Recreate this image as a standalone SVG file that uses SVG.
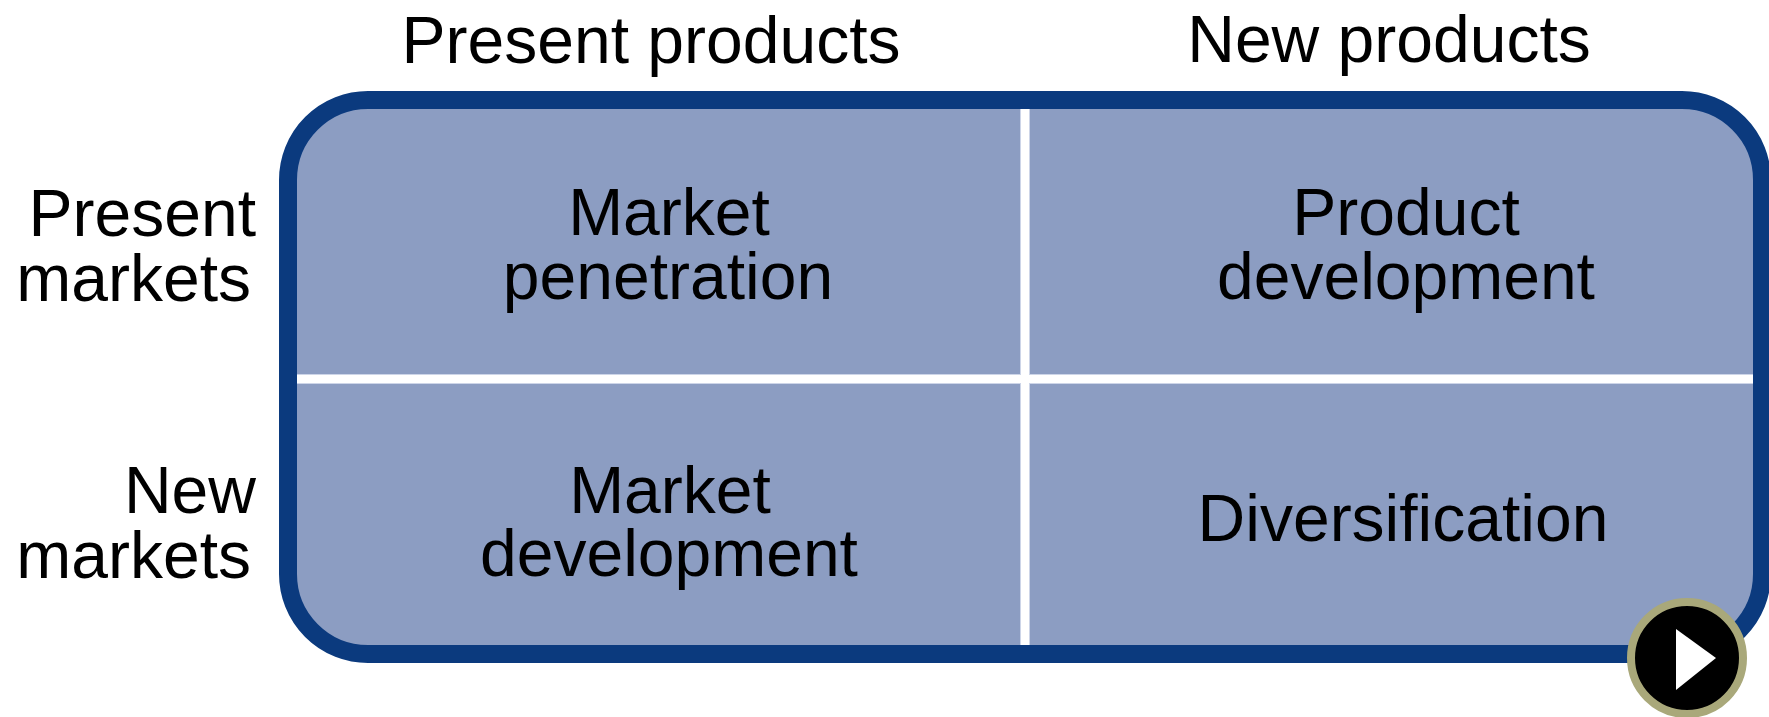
<svg xmlns="http://www.w3.org/2000/svg" width="1769" height="717" viewBox="0 0 1769 717">
<style>
text{font-family:"Liberation Sans",Arial,sans-serif;font-size:66px;fill:#000}
.c{text-anchor:middle}
.r{text-anchor:end}
.edge{stroke:#CDD5E8;stroke-width:10;fill:none}
.div{stroke:#FFFFFF;stroke-width:8;fill:none}
</style>
<rect width="1769" height="717" fill="#FFFFFF"/>
<g id="headers">
<text class="c" x="651" y="63">Present products</text>
<text class="c" x="1389" y="62">New products</text>
<text class="r" x="256" y="236">Present</text>
<text class="r" x="251" y="301">markets</text>
<text class="r" x="256" y="513">New</text>
<text class="r" x="251" y="578">markets</text>
</g>
<g id="matrix">
<rect x="288" y="100" width="1474" height="554" rx="80" ry="80" fill="#8C9DC2" stroke="#0B3A7E" stroke-width="18"/>
</g>
<g id="connectors">
<line class="edge" x1="1025" y1="109" x2="1025" y2="645"/>
<line class="edge" x1="297" y1="379" x2="1753" y2="379"/>
<line class="div" x1="1025" y1="109" x2="1025" y2="645"/>
<line class="div" x1="297" y1="379" x2="1753" y2="379"/>
</g>
<g id="cell-market-penetration">
<text class="c" x="669" y="235">Market</text>
<text class="c" x="668" y="299">penetration</text>
</g>
<g id="cell-product-development">
<text class="c" x="1406" y="235">Product</text>
<text class="c" x="1406" y="299">development</text>
</g>
<g id="cell-market-development">
<text class="c" x="670" y="513">Market</text>
<text class="c" x="669" y="576">development</text>
</g>
<g id="cell-diversification">
<text class="c" x="1403" y="541">Diversification</text>
</g>
<g id="play-button">
<circle cx="1687" cy="658" r="56" fill="#000000" stroke="#A9A87A" stroke-width="8"/>
<polygon points="1676,629 1676,690 1716,658" fill="#FFFFFF"/>
</g>
</svg>
